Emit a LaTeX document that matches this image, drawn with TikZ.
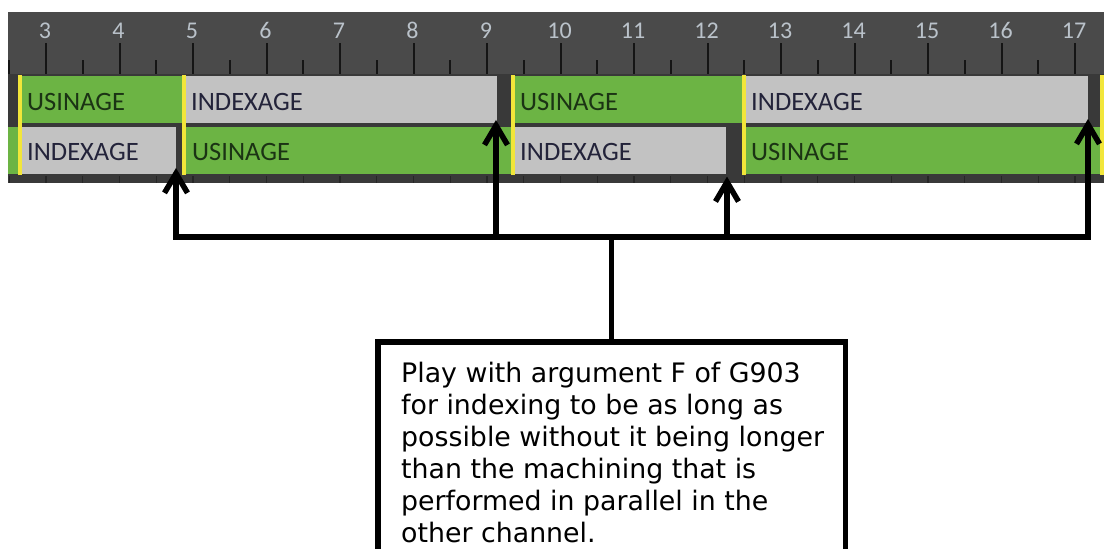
\documentclass[tikz,border=0pt]{standalone}
\usepackage{fontspec}
\setmainfont{DejaVu Sans}
\newfontfamily\barfont{Carlito}
\usetikzlibrary{calc}
\definecolor{panelC}{HTML}{4A4A4A}
\definecolor{panelDk}{HTML}{393939}
\definecolor{tickC}{HTML}{151515}
\definecolor{barGreen}{HTML}{6CB444}
\definecolor{barGrey}{HTML}{C2C2C2}
\definecolor{markC}{HTML}{F2E63A}
\definecolor{numCol}{HTML}{BAC2CA}
\definecolor{usiText}{HTML}{1B3314}
\definecolor{idxText}{HTML}{23233A}
\tikzset{
  barlbl/.style={font=\barfont\fontsize{26.5}{30}\selectfont, inner sep=0pt, anchor=base west},
  numlbl/.style={font=\barfont\fontsize{24}{28}\selectfont, text=numCol, inner sep=0pt, anchor=base},
  conn/.style={line width=5.5pt, black, line join=miter},
  notebox/.style={draw=black, line width=5.5pt, fill=white, inner sep=0pt, outer sep=0pt},
  notetxt/.style={font=\fontsize{26.8}{32}\selectfont, align=left, inner sep=0pt, text=black}
}
\begin{document}
\begin{tikzpicture}[x=1pt,y=-1pt]
\clip (0,0) rectangle (1104,549);
\fill[white] (0,0) rectangle (1104,549);
% panel
\fill[panelC] (8,12) rectangle (1104,74);
\fill[panelDk] (8,74) rectangle (1104,183);
% ruler ticks
\foreach \n in {5,...,35}{
  \pgfmathsetmacro{\xx}{46+(\n-6)*36.75}
  \ifodd\n
    \draw[tickC, line width=1.6pt] (\xx,60) -- (\xx,74);
  \else
    \draw[tickC, line width=2pt] (\xx,43) -- (\xx,74);
  \fi
  \draw[black!85, line width=1.2pt] (\xx,176) -- (\xx,183);
}
\foreach \k in {3,...,17}{
  \node[numlbl] (num\k) at ({45+(\k-3)*73.5},38.5) {\k};
}
% bars row 1
\fill[barGreen] (22,76) rectangle (182,123);
\fill[barGrey] (186,76) rectangle (497,123);
\fill[barGreen] (515,76) rectangle (742,123);
\fill[barGrey] (746,76) rectangle (1088,123);
% bars row 2
\fill[barGreen] (8,127) rectangle (18,174);
\fill[barGrey] (22,127) rectangle (176,174);
\fill[barGreen] (186,127) rectangle (511,174);
\fill[barGrey] (515,127) rectangle (726,174);
\fill[barGreen] (746,127) rectangle (1100,174);
% markers
\foreach \x in {20,184,513,744,1102}{
  \fill[markC] (\x-2,75) rectangle (\x+2,175);
}
% labels
\node[barlbl, text=usiText] (u1) at (27,110) {USINAGE};
\node[barlbl, text=idxText] (i1) at (191,110) {INDEXAGE};
\node[barlbl, text=usiText] (u2) at (520,110) {USINAGE};
\node[barlbl, text=idxText] (i2) at (751,110) {INDEXAGE};
\node[barlbl, text=idxText] (i3) at (27,160) {INDEXAGE};
\node[barlbl, text=usiText] (u3) at (192,160) {USINAGE};
\node[barlbl, text=idxText] (i4) at (520,160) {INDEXAGE};
\node[barlbl, text=usiText] (u4) at (751,160) {USINAGE};
% note box
\node[notebox, anchor=north west, minimum width=467.5pt, minimum height=300pt] (note) at (377.75,341.75) {};
\node[notetxt, anchor=north west] (notetext) at (401,362) {Play with argument F of G903\\for indexing to be as long as\\possible without it being longer\\than the machining that is\\performed in parallel in the\\other channel.};
% connectors (apex points at line centre)
\coordinate (t1) at (176,173.4);
\coordinate (t2) at (496,125.4);
\coordinate (t3) at (727,182);
\coordinate (t4) at (1088,124.4);
\coordinate (j1) at (176,237);
\coordinate (j2) at (496,237);
\coordinate (j3) at (727,237);
\coordinate (j4) at (1088,237);
\draw[conn] (t1) -- (j1) -- (j4) -- (t4);
\draw[conn] (j2) -- (t2);
\draw[conn] (j3) -- (t3);
\draw[conn] (note.north) -- (note.north |- j1);
% arrow heads
\foreach \t in {t1,t2,t3,t4}{
  \draw[conn] ($(\t)+(-11.5,19.5)$) -- (\t) -- ($(\t)+(11.5,19.5)$);
}
\end{tikzpicture}
\end{document}
